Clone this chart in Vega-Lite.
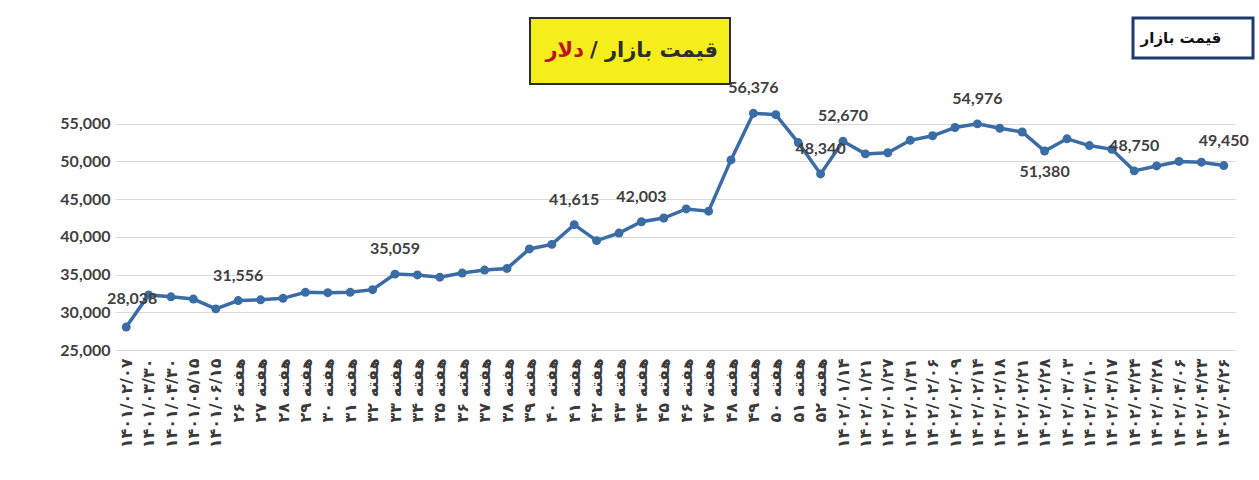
{
  "$schema": "https://vega.github.io/schema/vega-lite/v6.json",
  "background": "white",
  "padding": {"left": 59, "top": 16, "right": 4, "bottom": 4},
  "autosize": {"type": "pad"},
  "spacing": -5,
  "config": {"view": {"stroke": null}},
  "vconcat": [
    {
      "spacing": 0,
      "hconcat": [
        {"width": 414, "height": 66, "data": {"values": [{}]}, "mark": {"type": "text", "text": ""}},
        {
          "width": 200, "height": 66,
          "view": {"fill": "#f5ee1a", "stroke": "#2b2b2b", "strokeWidth": 2},
          "data": {"values": [{}]},
          "layer": [
            {"mark": {"type": "text", "text": "قیمت بازار /\u200F", "align": "left", "baseline": "middle", "dx": -40, "font": "DejaVu Sans", "fontWeight": "bold", "fontSize": 21, "color": "#2e2e2e"}},
            {"mark": {"type": "text", "text": "دلار", "align": "right", "baseline": "middle", "dx": -46, "font": "DejaVu Sans", "fontWeight": "bold", "fontSize": 21, "color": "#c0141b"}}
          ]
        },
        {"width": 400, "height": 66, "data": {"values": [{}]}, "mark": {"type": "text", "text": ""}},
        {
          "width": 120, "height": 40,
          "view": {"fill": "white", "stroke": "#1f3b6e", "strokeWidth": 3},
          "data": {"values": [{}]},
          "mark": {"type": "text", "text": "قیمت بازار", "align": "center", "baseline": "middle", "dx": -12, "font": "DejaVu Sans", "fontWeight": "bold", "fontSize": 15, "color": "#111111"}
        }
      ]
    },
    {
      "width": 1120,
      "height": 264,
      "data": {
        "values": [
          {"week": "۱۴۰۱/۰۲/۰۷", "price": 28038, "labeled": true},
          {"week": "۱۴۰۱/۰۳/۳۰", "price": 32300, "labeled": false},
          {"week": "۱۴۰۱/۰۴/۳۰", "price": 32050, "labeled": false},
          {"week": "۱۴۰۱/۰۵/۱۵", "price": 31750, "labeled": false},
          {"week": "۱۴۰۱/۰۶/۱۵", "price": 30450, "labeled": false},
          {"week": "هفته ۲۶", "price": 31556, "labeled": true},
          {"week": "هفته ۲۷", "price": 31650, "labeled": false},
          {"week": "هفته ۲۸", "price": 31850, "labeled": false},
          {"week": "هفته ۲۹", "price": 32650, "labeled": false},
          {"week": "هفته ۳۰", "price": 32600, "labeled": false},
          {"week": "هفته ۳۱", "price": 32650, "labeled": false},
          {"week": "هفته ۳۲", "price": 33000, "labeled": false},
          {"week": "هفته ۳۳", "price": 35059, "labeled": true},
          {"week": "هفته ۳۴", "price": 34950, "labeled": false},
          {"week": "هفته ۳۵", "price": 34650, "labeled": false},
          {"week": "هفته ۳۶", "price": 35200, "labeled": false},
          {"week": "هفته ۳۷", "price": 35600, "labeled": false},
          {"week": "هفته ۳۸", "price": 35800, "labeled": false},
          {"week": "هفته ۳۹", "price": 38400, "labeled": false},
          {"week": "هفته ۴۰", "price": 39000, "labeled": false},
          {"week": "هفته ۴۱", "price": 41615, "labeled": true},
          {"week": "هفته ۴۲", "price": 39500, "labeled": false},
          {"week": "هفته ۴۳", "price": 40500, "labeled": false},
          {"week": "هفته ۴۴", "price": 42003, "labeled": true},
          {"week": "هفته ۴۵", "price": 42500, "labeled": false},
          {"week": "هفته ۴۶", "price": 43700, "labeled": false},
          {"week": "هفته ۴۷", "price": 43400, "labeled": false},
          {"week": "هفته ۴۸", "price": 50200, "labeled": false},
          {"week": "هفته ۴۹", "price": 56376, "labeled": true},
          {"week": "هفته ۵۰", "price": 56200, "labeled": false},
          {"week": "هفته ۵۱", "price": 52500, "labeled": false},
          {"week": "هفته ۵۲", "price": 48340, "labeled": true},
          {"week": "۱۴۰۲/۰۱/۱۴", "price": 52670, "labeled": true},
          {"week": "۱۴۰۲/۰۱/۲۱", "price": 51000, "labeled": false},
          {"week": "۱۴۰۲/۰۱/۲۷", "price": 51150, "labeled": false},
          {"week": "۱۴۰۲/۰۱/۳۱", "price": 52800, "labeled": false},
          {"week": "۱۴۰۲/۰۲/۰۶", "price": 53400, "labeled": false},
          {"week": "۱۴۰۲/۰۲/۰۹", "price": 54500, "labeled": false},
          {"week": "۱۴۰۲/۰۲/۱۴", "price": 54976, "labeled": true},
          {"week": "۱۴۰۲/۰۲/۱۸", "price": 54400, "labeled": false},
          {"week": "۱۴۰۲/۰۲/۲۱", "price": 53900, "labeled": false},
          {"week": "۱۴۰۲/۰۲/۲۸", "price": 51380, "labeled": true},
          {"week": "۱۴۰۲/۰۳/۰۳", "price": 53000, "labeled": false},
          {"week": "۱۴۰۲/۰۳/۱۰", "price": 52100, "labeled": false},
          {"week": "۱۴۰۲/۰۳/۱۷", "price": 51600, "labeled": false},
          {"week": "۱۴۰۲/۰۳/۲۴", "price": 48750, "labeled": true},
          {"week": "۱۴۰۲/۰۳/۲۸", "price": 49400, "labeled": false},
          {"week": "۱۴۰۲/۰۴/۰۶", "price": 50000, "labeled": false},
          {"week": "۱۴۰۲/۰۴/۲۳", "price": 49900, "labeled": false},
          {"week": "۱۴۰۲/۰۴/۲۶", "price": 49450, "labeled": true}
        ]
      },
      "encoding": {
        "x": {
          "field": "week", "type": "ordinal", "sort": null,
          "scale": {"type": "point", "padding": 0.5},
          "axis": {"title": null, "labelAngle": -90, "labelFont": "DejaVu Sans", "labelFontWeight": "bold", "labelFontSize": 16, "labelColor": "#3a3a3a", "labelPadding": 8, "labelOverlap": false, "ticks": false, "domain": false, "grid": false}
        },
        "y": {
          "field": "price", "type": "quantitative",
          "scale": {"domain": [25000, 60000], "nice": false, "zero": false},
          "axis": {"title": null, "values": [25000, 30000, 35000, 40000, 45000, 50000, 55000], "format": ",.0f", "labelFont": "Lato", "labelFontWeight": "bold", "labelFontSize": 16, "labelColor": "#404040", "labelPadding": 5, "ticks": false, "domain": false, "gridColor": "#d9d9d9", "gridWidth": 1}
        }
      },
      "layer": [
        {"mark": {"type": "line", "color": "#3a6ca6", "strokeWidth": 3.5}},
        {"mark": {"type": "point", "filled": true, "color": "#3a6ca6", "size": 80, "opacity": 1}},
        {
          "transform": [{"filter": "datum.labeled && datum.price != 51380 && datum.price != 28038"}],
          "mark": {"type": "text", "dy": -25, "font": "Lato", "fontWeight": "bold", "fontSize": 16, "color": "#404040"},
          "encoding": {"text": {"field": "price", "type": "quantitative", "format": ","}}
        },
        {
          "transform": [{"filter": "datum.price == 28038"}],
          "mark": {"type": "text", "dy": -28, "dx": 6, "font": "Lato", "fontWeight": "bold", "fontSize": 16, "color": "#404040"},
          "encoding": {"text": {"field": "price", "type": "quantitative", "format": ","}}
        },
        {
          "transform": [{"filter": "datum.price == 51380"}],
          "mark": {"type": "text", "dy": 21, "font": "Lato", "fontWeight": "bold", "fontSize": 16, "color": "#404040"},
          "encoding": {"text": {"field": "price", "type": "quantitative", "format": ","}}
        }
      ]
    }
  ]
}
